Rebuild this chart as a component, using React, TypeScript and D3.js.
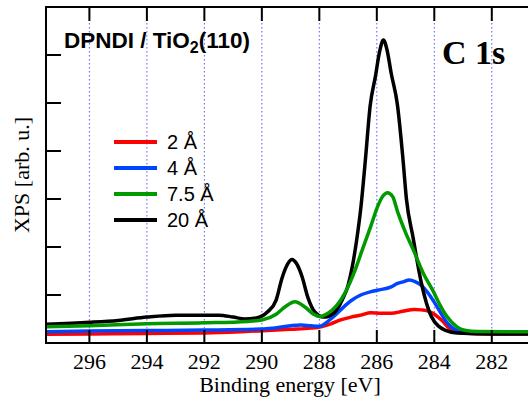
import React from "react";
import * as d3 from "d3";

// ---- data (binding energy in eV, intensity in arb. units) ----
const xTicks = [296, 294, 292, 290, 288, 286, 284, 282];
const yTicks = [1, 2, 3, 4, 5, 6];

const redEnergy = [297.5, 296, 294, 292, 290.7, 289, 288.3, 287.94, 287.6, 287.26, 286.9, 286.56, 286.21, 285.86, 285.5, 285.1, 284.7, 284.45, 284.24, 284.05, 283.89, 283.7, 283.54, 283.3, 283, 282, 280.7];
const redValues = [0.18, 0.19, 0.2, 0.21, 0.235, 0.285, 0.31, 0.34, 0.4, 0.48, 0.54, 0.58, 0.63, 0.62, 0.62, 0.66, 0.7, 0.69, 0.67, 0.62, 0.55, 0.45, 0.34, 0.25, 0.21, 0.19, 0.19];

const blueEnergy = [297.5, 296, 294, 292, 290, 289.6, 289, 288.65, 288.3, 288.0, 287.6, 287.26, 286.9, 286.56, 286.2, 285.98, 285.5, 285.28, 285.05, 284.88, 284.67, 284.47, 284.3, 284.12, 283.95, 283.77, 283.6, 283.42, 283.2, 283, 282, 280.7];
const blueValues = [0.235, 0.25, 0.26, 0.27, 0.29, 0.31, 0.36, 0.375, 0.36, 0.35, 0.5, 0.69, 0.88, 1.0, 1.07, 1.1, 1.17, 1.24, 1.28, 1.31, 1.28, 1.21, 1.1, 0.96, 0.8, 0.62, 0.46, 0.34, 0.26, 0.23, 0.21, 0.21];

const greenEnergy = [297.5, 296, 294, 292, 290.5, 290, 289.5, 289.2, 288.85, 288.5, 288.2, 288.0, 287.7, 287.4, 287.1, 286.8, 286.5, 286.2, 286.0, 285.8, 285.63, 285.45, 285.27, 285.0, 284.73, 284.38, 284.03, 283.8, 283.56, 283.2, 282.9, 282.5, 281, 280.7];
const greenValues = [0.34, 0.36, 0.4, 0.42, 0.45, 0.48, 0.6, 0.75, 0.86, 0.75, 0.6, 0.55, 0.62, 0.78, 1.05, 1.45, 1.95, 2.45, 2.8, 3.05, 3.13, 3.05, 2.72, 2.3, 1.94, 1.45, 1.07, 0.79, 0.55, 0.33, 0.26, 0.24, 0.235, 0.235];

const blackEnergy = [297.5, 296, 295, 294, 293, 292, 291.5, 291, 290.6, 290.2, 289.8, 289.5, 289.3, 289.1, 288.95, 288.8, 288.6, 288.4, 288.15, 287.85, 287.5, 287.2, 287.0, 286.85, 286.7, 286.55, 286.4, 286.23, 286.05, 285.9, 285.77, 285.65, 285.5, 285.28, 285.1, 284.97, 284.74, 284.45, 284.1, 283.63, 283.2, 282, 280.7];
const blackValues = [0.39, 0.43, 0.47, 0.54, 0.58, 0.58, 0.58, 0.54, 0.5, 0.52, 0.65, 0.9, 1.35, 1.65, 1.74, 1.66, 1.38, 0.95, 0.64, 0.54, 0.62, 0.9, 1.2, 1.6, 2.15, 2.85, 3.8, 4.95, 5.55, 6.08, 6.31, 6.12, 5.62, 4.95, 3.9, 3.0, 2.2, 1.25, 0.55, 0.27, 0.21, 0.19, 0.19];

const seriesNames = ["2 Å", "4 Å", "7.5 Å", "20 Å"];
const seriesColors = ["#ff0000", "#0044ff", "#009a00", "#000000"];

const W = 528;
const H = 402;
const left = 46;
const right = 528;
const top = 7;
const bottom = 343;

export default function App() {
  const x = d3.scaleLinear().domain([297.51, 280.74]).range([left, right]);
  const y = d3.scaleLinear().domain([0, 7]).range([bottom, top]);

  const line = d3
    .line<[number, number]>()
    .x((d) => x(d[0]))
    .y((d) => y(d[1]))
    .curve(d3.curveMonotoneX);

  const series = [
    { name: seriesNames[0], color: seriesColors[0], e: redEnergy, v: redValues },
    { name: seriesNames[1], color: seriesColors[1], e: blueEnergy, v: blueValues },
    { name: seriesNames[3], color: seriesColors[3], e: blackEnergy, v: blackValues },
    { name: seriesNames[2], color: seriesColors[2], e: greenEnergy, v: greenValues },
  ];

  const legendY0 = 142;
  const legendStep = 26;

  return (
    <svg
      width={W}
      height={H}
      style={{ position: "absolute", left: 0, top: 0, background: "#fff" }}
    >
      <defs>
        <clipPath id="plotclip">
          <rect x={left} y={top} width={right - left} height={bottom - top} />
        </clipPath>
      </defs>
      {/* grid */}
      {xTicks.map((t) => (
        <line
          key={"g" + t}
          x1={x(t)}
          x2={x(t)}
          y1={top}
          y2={bottom}
          stroke="#5a5aff"
          strokeWidth={1}
          strokeDasharray="1.5,2.5"
        />
      ))}
      {/* curves */}
      <g clipPath="url(#plotclip)">
        {series.map((s) => (
          <path
            key={s.name}
            d={line(s.e.map((e, i) => [e, s.v[i]] as [number, number])) || ""}
            fill="none"
            stroke={s.color}
            strokeWidth={3.5}
            strokeLinejoin="round"
          />
        ))}
      </g>
      {/* frame */}
      <path
        d={`M${right},${top}H${left}V${bottom}H${right}`}
        fill="none"
        stroke="#000"
        strokeWidth={2}
      />
      {xTicks.map((t) => (
        <g key={"t" + t}>
          <line x1={x(t)} x2={x(t)} y1={top} y2={top + 14} stroke="#000" strokeWidth={2} />
          <line x1={x(t)} x2={x(t)} y1={bottom} y2={bottom - 13} stroke="#000" strokeWidth={2} />
          <text
            x={x(t)}
            y={369}
            textAnchor="middle"
            fontFamily="'Liberation Serif', 'Times New Roman', serif"
            fontSize={22}
          >
            {t}
          </text>
        </g>
      ))}
      {yTicks.map((t) => (
        <line key={"y" + t} x1={left} x2={left + 15} y1={y(t)} y2={y(t)} stroke="#000" strokeWidth={2} />
      ))}
      {/* axis titles */}
      <text
        x={290}
        y={392}
        textAnchor="middle"
        fontFamily="'Liberation Serif', 'Times New Roman', serif"
        fontSize={22}
      >
        Binding energy [eV]
      </text>
      <text
        transform="translate(29,175) rotate(-90)"
        textAnchor="middle"
        fontFamily="'Liberation Serif', 'Times New Roman', serif"
        fontSize={22}
      >
        XPS [arb. u.]
      </text>
      {/* title */}
      <text
        x={64}
        y={48}
        fontFamily="'Liberation Sans', Arial, sans-serif"
        fontWeight="bold"
        fontSize={22.5}
      >
        DPNDI / TiO
        <tspan fontSize={16} dy={5}>2</tspan>
        <tspan dy={-5}>(110)</tspan>
      </text>
      <text
        x={442}
        y={64}
        fontFamily="'Liberation Serif', 'Times New Roman', serif"
        fontWeight="bold"
        fontSize={34}
      >
        C 1s
      </text>
      {/* legend */}
      {seriesNames.map((n, i) => (
        <g key={"l" + n}>
          <line
            x1={114}
            x2={157}
            y1={legendY0 + i * legendStep}
            y2={legendY0 + i * legendStep}
            stroke={seriesColors[i]}
            strokeWidth={4}
          />
          <text
            x={167}
            y={legendY0 + i * legendStep + 7}
            fontFamily="'Liberation Sans', Arial, sans-serif"
            fontSize={20}
          >
            {n}
          </text>
        </g>
      ))}
    </svg>
  );
}
